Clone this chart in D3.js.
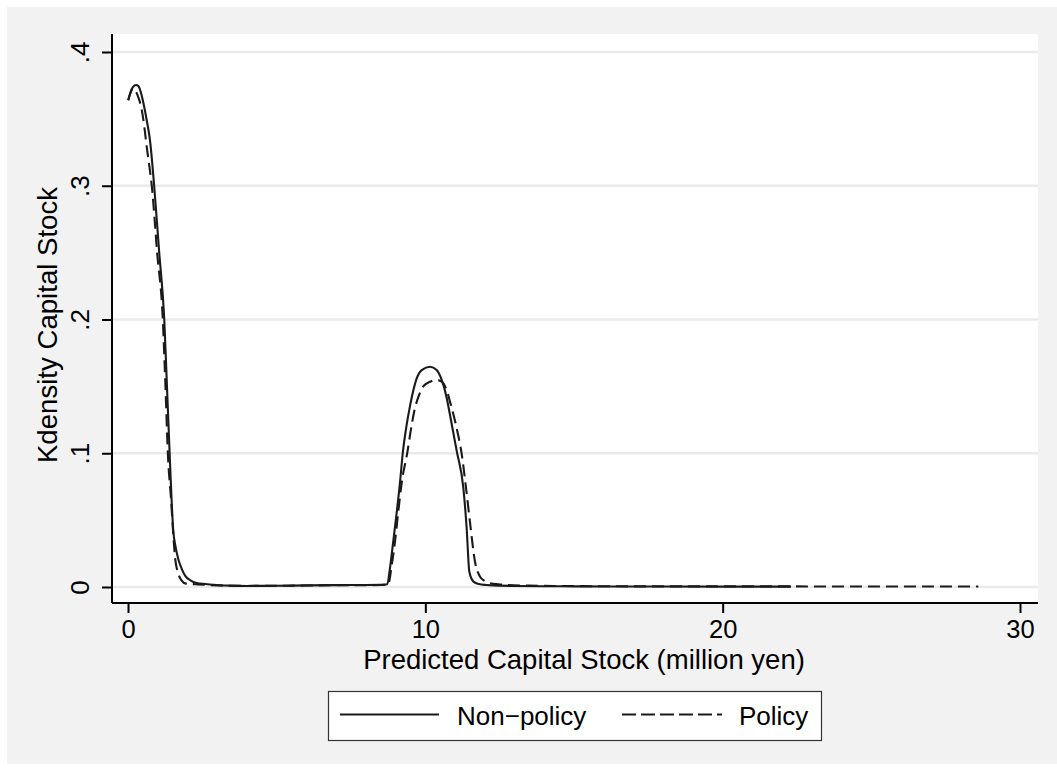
<!DOCTYPE html>
<html>
<head>
<meta charset="utf-8">
<script src="https://cdn.jsdelivr.net/npm/d3@7"></script>
<style>
  html, body { margin: 0; padding: 0; background: #ffffff; }
  svg { display: block; }
  text { font-family: "Liberation Sans", Arial, Helvetica, sans-serif; fill: #000; }
</style>
</head>
<body>
<svg id="chart" width="1057" height="771"></svg>
<script>
// ---- data ----
const nonPolicyX = [0.01, 0.06, 0.12, 0.2, 0.27, 0.35, 0.43, 0.52, 0.63, 0.74, 0.88, 1.05, 1.22, 1.31, 1.40, 1.46, 1.52, 1.60, 1.69, 1.80, 1.92, 2.1, 2.31, 2.6, 3.0, 3.43, 4, 5, 6, 7, 8, 8.5, 8.72, 8.81, 8.92, 9.04, 9.15, 9.24, 9.37, 9.49, 9.60, 9.71, 9.88, 10.16, 10.38, 10.55, 10.72, 10.83, 11.06, 11.28, 11.39, 11.48, 11.62, 11.8, 12.06, 12.5, 13, 14, 15, 16, 18, 20, 22.3];
const nonPolicyY = [0.364, 0.368, 0.372, 0.3745, 0.3753, 0.3745, 0.370, 0.3617, 0.349, 0.334, 0.300, 0.250, 0.200, 0.150, 0.100, 0.068, 0.043, 0.030, 0.021, 0.014, 0.0085, 0.0050, 0.0030, 0.0022, 0.0015, 0.0010, 0.0008, 0.0009, 0.0012, 0.0014, 0.0015, 0.0016, 0.0020, 0.014, 0.034, 0.0563, 0.0787, 0.100, 0.121, 0.136, 0.1473, 0.156, 0.1622, 0.1647, 0.1622, 0.1548, 0.1411, 0.1286, 0.1012, 0.0738, 0.0439, 0.0114, 0.0040, 0.0022, 0.0015, 0.0010, 0.0008, 0.0006, 0.0005, 0.0004, 0.0004, 0.0003, 0.0003];

const policyX = [0.01, 0.06, 0.12, 0.17, 0.25, 0.35, 0.46, 0.55, 0.63, 0.71, 0.80, 0.98, 1.17, 1.26, 1.34, 1.45, 1.52, 1.58, 1.69, 1.80, 1.95, 2.3, 3.0, 4, 5, 6, 7, 8, 8.5, 8.75, 8.87, 8.98, 9.09, 9.21, 9.39, 9.54, 9.65, 9.77, 9.93, 10.16, 10.38, 10.55, 10.72, 10.83, 11.08, 11.22, 11.37, 11.5, 11.67, 11.84, 12.0, 12.18, 12.45, 12.74, 13.5, 15, 17, 20, 24, 28.6];
const policyY = [0.364, 0.368, 0.3715, 0.3727, 0.371, 0.366, 0.357, 0.344, 0.329, 0.316, 0.300, 0.250, 0.200, 0.150, 0.100, 0.065, 0.040, 0.0227, 0.010, 0.005, 0.0025, 0.0020, 0.0012, 0.0008, 0.0009, 0.0011, 0.0013, 0.0014, 0.0015, 0.0020, 0.0164, 0.034, 0.0563, 0.0787, 0.100, 0.121, 0.1336, 0.1423, 0.150, 0.1535, 0.1548, 0.1535, 0.147, 0.1386, 0.1161, 0.0999, 0.0738, 0.0488, 0.0189, 0.0077, 0.0045, 0.0028, 0.0020, 0.0015, 0.0010, 0.0007, 0.0005, 0.0005, 0.0004, 0.0004];

const xTicks = [0, 10, 20, 30];
const yTicks = [0, 0.1, 0.2, 0.3, 0.4];
const yTickLabels = ["0", ".1", ".2", ".3", ".4"];
const seriesNames = ["Non\u2212policy", "Policy"];
const xTitle = "Predicted Capital Stock (million yen)";
const yTitle = "Kdensity Capital Stock";

// ---- layout ----
const svg = d3.select("#chart");
const W = 1057, H = 771;
const plot = { left: 112, right: 1038, top: 34, bottom: 603 };

svg.append("rect").attr("x", 7).attr("y", 7).attr("width", W - 7).attr("height", 757)
  .attr("fill", "#f2f2f2");
svg.append("rect").attr("x", plot.left).attr("y", plot.top)
  .attr("width", plot.right - plot.left).attr("height", plot.bottom - plot.top)
  .attr("fill", "#ffffff");

const x = d3.scaleLinear().domain([0, 30]).range([128, 1020]);
const y = d3.scaleLinear().domain([0, 0.4]).range([587, 52]);

// gridlines
svg.append("g").selectAll("line").data(yTicks).join("line")
  .attr("x1", plot.left).attr("x2", plot.right)
  .attr("y1", d => y(d)).attr("y2", d => y(d))
  .attr("stroke", "#eaeaea").attr("stroke-width", 2.5);

// lines
const mk = (xs, ys) => xs.map((v, i) => [v, ys[i]]);
const line = d3.line().x(d => x(d[0])).y(d => y(d[1])).curve(d3.curveMonotoneX);

svg.append("path").datum(mk(policyX, policyY))
  .attr("d", line).attr("fill", "none").attr("stroke", "#1a1a1a")
  .attr("stroke-width", 2.1).attr("stroke-dasharray", "12,6");
svg.append("path").datum(mk(nonPolicyX, nonPolicyY))
  .attr("d", line).attr("fill", "none").attr("stroke", "#1a1a1a")
  .attr("stroke-width", 2.1);

// axes
const yAxis = d3.axisLeft(y).tickValues(yTicks)
  .tickFormat((d, i) => yTickLabels[i]).tickSize(10).tickSizeOuter(0);
const gy = svg.append("g").attr("transform", `translate(${plot.left},0)`).call(yAxis);
gy.select(".domain").attr("d", `M0,${plot.top}V${plot.bottom}`).attr("stroke", "#000").attr("stroke-width", 2);
gy.selectAll(".tick line").attr("stroke", "#000").attr("stroke-width", 2);
gy.selectAll(".tick text")
  .attr("transform", "rotate(-90)")
  .attr("x", 0).attr("y", -23).attr("dy", 0)
  .attr("text-anchor", "middle")
  .style("font-size", "26px").style("font-family", "'Liberation Sans', Arial, sans-serif").attr("fill", "#000");

const xAxis = d3.axisBottom(x).tickValues(xTicks).tickFormat(d3.format("d"))
  .tickSize(10).tickPadding(7).tickSizeOuter(0);
const gx = svg.append("g").attr("transform", `translate(0,${plot.bottom})`).call(xAxis);
gx.select(".domain").attr("d", `M${plot.left},0H${plot.right}`).attr("stroke", "#000").attr("stroke-width", 2);
gx.selectAll(".tick line").attr("stroke", "#000").attr("stroke-width", 2);
gx.selectAll(".tick text")
  .style("font-size", "25.5px").style("font-family", "'Liberation Sans', Arial, sans-serif").attr("fill", "#000");

// titles
svg.append("text").attr("x", 584).attr("y", 669).attr("text-anchor", "middle")
  .style("font-size", "27.5px").text(xTitle);
svg.append("text").attr("transform", "translate(57,325) rotate(-90)")
  .attr("text-anchor", "middle").style("font-size", "27.6px").text(yTitle);

// legend
const lg = svg.append("g");
lg.append("rect").attr("x", 328.5).attr("y", 691.5).attr("width", 493).attr("height", 49)
  .attr("fill", "#ffffff").attr("stroke", "#333").attr("stroke-width", 1.2);
lg.append("line").attr("x1", 340).attr("x2", 439).attr("y1", 714.5).attr("y2", 714.5)
  .attr("stroke", "#1a1a1a").attr("stroke-width", 2.1);
lg.append("text").attr("x", 457).attr("y", 725).style("font-size", "26px").text(seriesNames[0]);
lg.append("line").attr("x1", 622).attr("x2", 722).attr("y1", 714.5).attr("y2", 714.5)
  .attr("stroke", "#1a1a1a").attr("stroke-width", 2.1).attr("stroke-dasharray", "14,5");
lg.append("text").attr("x", 739).attr("y", 725).style("font-size", "26px").text(seriesNames[1]);
</script>
</body>
</html>
